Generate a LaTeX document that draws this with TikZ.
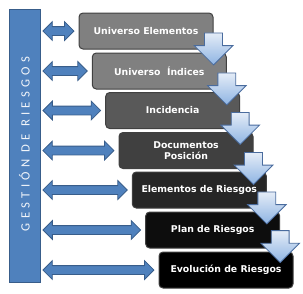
\documentclass[tikz,border=0pt]{standalone}
\usepackage{fontspec}
\setmainfont{DejaVu Sans}
\newfontfamily\barfont[LetterSpace=34]{Carlito}
\definecolor{riskblue}{HTML}{4F81BD}
\definecolor{riskline}{HTML}{385D8A}
\definecolor{flowlight}{HTML}{E4ECF7}
\definecolor{flowdark}{HTML}{8EB4E3}
\definecolor{flowline}{HTML}{4A6C9E}
\usetikzlibrary{shapes.arrows,positioning}

\tikzset{
  stage/.style={draw=black!75, line width=0.75pt, rounded corners=3pt, minimum width=100.5pt, minimum height=27pt,
    inner sep=0pt, align=center, text=white, font=\fontsize{7}{8}\selectfont\bfseries},
  link/.style={double arrow, draw=riskline, fill=riskblue, line width=0.6pt, inner sep=3pt,
    double arrow head extend=3.75pt, anchor=east},
  flow/.style={single arrow, draw=flowline, top color=flowlight, bottom color=flowdark, line width=0.6pt,
    shape border rotate=270, minimum height=24pt, inner sep=6.4pt, single arrow head extend=7.8pt,
    anchor=tip}
}

\begin{document}
\begin{tikzpicture}[x=0.75pt,y=-0.75pt]
  \useasboundingbox (0,0) rectangle (303,293);
  % Side bar
  \node[draw=riskline, fill=riskblue, line width=0.75pt, minimum width=23.25pt, minimum height=204.75pt, inner sep=0pt] (bar) at (24.5,145.5) {};
  \node[rotate=90, text=white!92!riskblue, font=\barfont\fontsize{9.5}{10}\selectfont] (bartext) at (24.5,144) {GESTIÓN DE RIESGOS};
  % Stages
  \node[stage, fill=black!50] (b1) at (146,31) {Universo Elementos};
  \node[stage, fill=black!50] (b2) at (159.3,71) {Universo~~Índices};
  \node[stage, fill=black!65] (b3) at (172.7,110.5) {Incidencia};
  \node[stage, fill=black!75] (b4) at (186,150.5) {Documentos\\Posición};
  \node[stage, fill=black!85] (b5) at (199.3,190) {Elementos de Riesgos};
  \node[stage, fill=black!95] (b6) at (212.7,230) {Plan de Riesgos};
  \node[stage, fill=black] (b7) at (226,270) {Evolución de Riesgos};
  % Links to the side bar
  \node[link, minimum height=23.25pt] (l1) at ([xshift=-3pt]b1.west) {};
  \node[link, minimum height=33.25pt] (l2) at ([xshift=-3pt]b2.west) {};
  \node[link, minimum height=43.25pt] (l3) at ([xshift=-3pt]b3.west) {};
  \node[link, minimum height=53.25pt] (l4) at ([xshift=-3pt]b4.west) {};
  \node[link, minimum height=63.25pt] (l5) at ([xshift=-3pt]b5.west) {};
  \node[link, minimum height=73.25pt] (l6) at ([xshift=-3pt]b6.west) {};
  \node[link, minimum height=83.25pt] (l7) at ([xshift=-3pt]b7.west) {};
  % Flow arrows
  \node[flow] (f1) at ([yshift=-12pt]b1.south east) {};
  \node[flow] (f2) at ([yshift=-12pt]b2.south east) {};
  \node[flow] (f3) at ([yshift=-12pt]b3.south east) {};
  \node[flow] (f4) at ([yshift=-12pt]b4.south east) {};
  \node[flow] (f5) at ([yshift=-12pt]b5.south east) {};
  \node[flow] (f6) at ([yshift=-11pt]b6.south east) {};
\end{tikzpicture}
\end{document}
